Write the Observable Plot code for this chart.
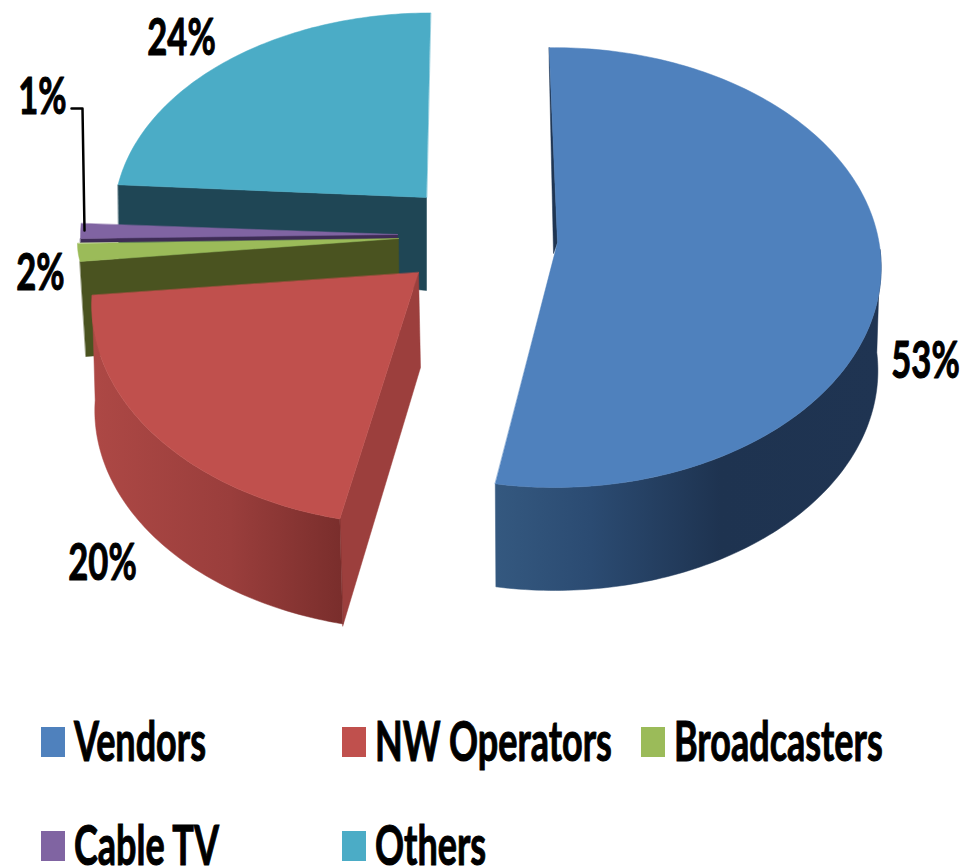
<!DOCTYPE html>
<html>
<head>
<meta charset="utf-8">
<script src="https://cdn.jsdelivr.net/npm/d3@7"></script>
<script src="https://cdn.jsdelivr.net/npm/@observablehq/plot@0.6"></script>
<style>
  html, body { margin: 0; padding: 0; background: #fff; overflow: hidden; }
  #page { position: relative; width: 971px; height: 866px; overflow: hidden; }
  #legend { position: absolute; left: 0; top: 700px; width: 971px; height: 166px; font-family: Lato, sans-serif; font-weight: 700; font-size: 48px; color: #000; }
  .item { position: absolute; display: block; white-space: nowrap; }
  .swatch { position: absolute; left: 0; top: 0; width: 24px; height: 30px; }
  .name { position: absolute; left: 33px; top: -5px; line-height: 36px; height: 36px; display: block; transform: scale(0.75, 1.15); transform-origin: left center; -webkit-text-stroke: 0.9px #000; }
</style>
</head>
<body>
<div id="page"><div id="chart"></div><div id="legend"></div></div>
<script>
// Data
const categories = ["Vendors", "NW Operators", "Broadcasters", "Cable TV", "Others"];
const shares = [53, 20, 2, 1, 24];
const topColors = ["#4f81bd", "#c0504d", "#9bbb59", "#8064a2", "#4bacc6"];
const cutColors = ["#1f3552", "#9c3f3d", "#4a5320", "#3e2c55", "#1f4655"];

// Label placement and legend layout
const labelX = [925, 102, 40, 42, 181];
const labelY = [361, 563, 273, 97, 38];
const legendX = [41, 342, 641, 41, 342];
const legendY = [27, 27, 27, 131, 131];

// Pie shape of each exploded slice: ellipse, perspective, apex, cut face and outer wall
const ellipseX = [554, 418, 398, 397, 430];
const ellipseY = [253, 272, 243, 238, 197];
const radiusX = [326, 323, 321, 317, 315];
const radiusY = [219, 215, 144, 238, 203];
const perspective = [0.064, 0.15, 0, 0, 0.1];
const turnDeg = [-1, 1.2, 0, 0, 0];
const apexX = [557, 418, 398, 397, 426];
const apexY = [242, 272, 238, 234, 197];
// Cut face: drop at the rim and drop at the apex
const cutRim = [[0, 12], [3, 107], [6, 95], [0, 4], [1, 75]];
const cutApex = [[-4, 11], [2, 95], [1, 95], [0, 4], [0, 93]];
// Outer wall: starting angle, depth, horizontal shrink and shift, gradient stops
const wallFrom = [90, null, null, null, null];
const wallDepth = [103, 105, 0, 0, 0];
const wallShrink = [0.99, 1, 1, 1, 1];
const wallShift = [0, 3, 0, 0, 0];
const wallStops = [
  [[497, "#34587f"], [590, "#2b4b72"], [720, "#1e3350"], [880, "#1f3452"]],
  [[93, "#ad4845"], [230, "#9a3e3c"], [340, "#7a2e2c"]],
  null, null, null
];

const rad = Math.PI / 180;
const slices = [];
let cum = 0;
shares.forEach((v, i) => { slices.push({i, a0: cum / 100 * 360, a1: (cum + v) / 100 * 360}); cum += v; });

function rim(i, deg) {
  const t = (deg + turnDeg[i]) * rad;
  const s = Math.sin(t), c = -Math.cos(t);
  const w = 1 / (1 - perspective[i] * c);
  return {x: ellipseX[i] + radiusX[i] * s * w, y: ellipseY[i] + radiusY[i] * c * w};
}
function arc(i, from, to) {
  const n = Math.max(2, Math.ceil(Math.abs(to - from)));
  return d3.range(n + 1).map(k => rim(i, from + (to - from) * k / n));
}
const topFace = i => [{x: apexX[i], y: apexY[i]}, ...arc(i, slices[i].a0, slices[i].a1)];
function cutFace(i) {
  const p = rim(i, slices[i].a0);
  return [
    p,
    {x: apexX[i], y: apexY[i]},
    {x: apexX[i] + cutApex[i][0], y: apexY[i] + cutApex[i][1]},
    {x: p.x + cutRim[i][0], y: p.y + cutRim[i][1]}
  ];
}
function wallFace(i) {
  const from = wallFrom[i] ?? slices[i].a0;
  const upper = arc(i, from, slices[i].a1);
  const lower = upper.map(p => ({
    x: ellipseX[i] + (p.x - ellipseX[i]) * wallShrink[i] + wallShift[i],
    y: p.y + wallDepth[i]
  })).reverse();
  return [...upper, ...lower];
}
const poly = (pts, fill) => Plot.line(pts, {x: "x", y: "y", fill, stroke: fill, strokeWidth: 0.5, curve: "linear-closed"});

function defs() {
  const svg = d3.create("svg:g");
  const d = svg.append("defs");
  wallStops.forEach((stops, i) => {
    if (!stops) return;
    const g = d.append("linearGradient").attr("id", `wall${i}`).attr("gradientUnits", "userSpaceOnUse")
      .attr("x1", stops[0][0]).attr("x2", stops[stops.length - 1][0]).attr("y1", 0).attr("y2", 0);
    const span = stops[stops.length - 1][0] - stops[0][0];
    stops.forEach(([x, col]) => g.append("stop").attr("offset", (x - stops[0][0]) / span).attr("stop-color", col));
  });
  return svg.node();
}

const drawOrder = [4, 3, 2];
const marks = [defs];
for (const i of drawOrder) marks.push(poly(cutFace(i), cutColors[i]), poly(topFace(i), topColors[i]));
marks.push(poly(cutFace(1), cutColors[1]), poly(wallFace(1), "url(#wall1)"), poly(topFace(1), topColors[1]));
marks.push(poly(wallFace(0), "url(#wall0)"), poly(cutFace(0), cutColors[0]), poly(topFace(0), topColors[0]));

// Leader line for the Cable TV label
const leader = [{x: 71, y: 108}, {x: 82, y: 108}, {x: 84, y: 230}];
marks.push(Plot.line(leader, {x: "x", y: "y", stroke: "#000", strokeWidth: 2.5}));

marks.push(Plot.text(shares.map((v, i) => ({label: `${v}%`, x: labelX[i], y: labelY[i]})), {
  x: "x", y: "y", text: "label", fill: "#000", stroke: "#000", strokeWidth: 1,
  fontFamily: "Lato, sans-serif",
  fontWeight: 700, fontSize: 48, textAnchor: "middle", lineAnchor: "middle"
}));

const plot = Plot.plot({
  width: 971, height: 700,
  margin: 0,
  x: {domain: [0, 971], range: [0, 971], axis: null},
  y: {domain: [0, 700], range: [0, 700], axis: null},
  marks
});
// Narrow, tall lettering of the original labels
d3.select(plot).selectAll("text").attr("transform", function () {
  return `${this.getAttribute("transform") || ""} scale(0.72, 1.08)`;
});
document.getElementById("chart").appendChild(plot);

const legend = d3.select("#legend");
categories.forEach((name, i) => {
  const item = legend.append("div").attr("class", "item").style("left", `${legendX[i]}px`).style("top", `${legendY[i]}px`);
  item.append("div").attr("class", "swatch").style("background", topColors[i]);
  item.append("span").attr("class", "name").text(name);
});
</script>
</body>
</html>
